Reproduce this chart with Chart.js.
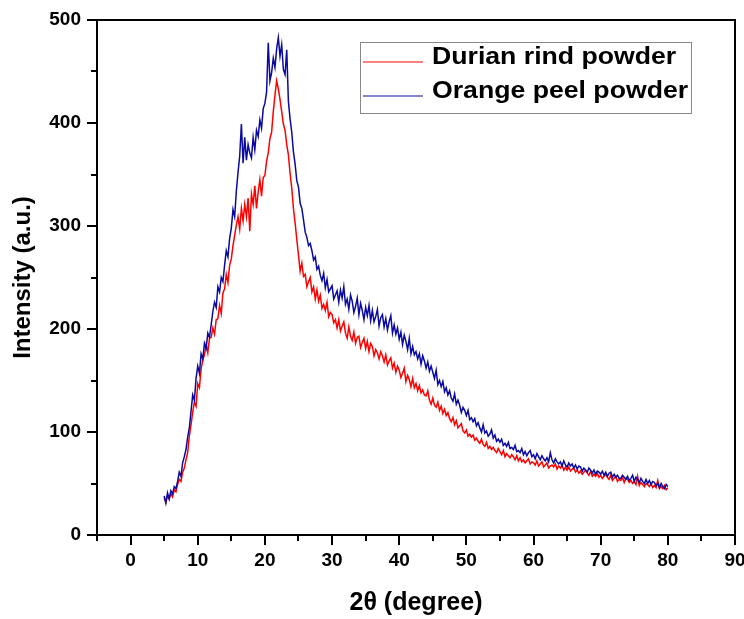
<!DOCTYPE html>
<html>
<head>
<meta charset="utf-8">
<script src="https://cdn.jsdelivr.net/npm/chart.js@4"></script>
<style>
    html, body { margin: 0; padding: 0; background: #fff; }
    #wrap { width: 744px; height: 619px; position: relative; }
</style>
</head>
<body>
<div id="wrap"><canvas id="xrdChart"></canvas></div>
<script>
// 2-theta sampling of the scans (degrees)
const startAngle = 5;
const angleStep = 0.25;

// Durian rind powder intensity, one value per 0.25 deg from 5 to 80
const durianRind = [
    36, 32, 38, 35,  40, 37, 44, 42,  49, 54, 52, 61,  65, 73, 80, 96,
    107, 119, 129, 125,  147, 143, 161, 170,  175, 185, 177, 191,  192, 201, 195, 209,
    210, 223, 215, 235,  239, 253, 245, 262,  268, 281, 291, 301,  309, 297, 317, 305,
    321, 309, 327, 295,  331, 321, 339, 317,  333, 345, 329, 347,  349, 363, 371, 385,
    391, 411, 427, 441,  433, 423, 411, 399,  393, 379, 369, 351,  337, 317, 303, 287,
    272, 256, 264, 251,  253, 241, 246, 250,  236, 241, 229, 238,  227, 233, 220, 224,
    218, 226, 212, 216,  214, 206, 209, 201,  209, 198, 203, 207,  196, 191, 202, 193,
    189, 197, 186, 192,  193, 182, 187, 191,  181, 188, 178, 186,  183, 174, 180, 177,
    171, 178, 174, 168,  175, 165, 169, 172,  162, 167, 158, 164,  160, 153, 157, 162,
    149, 155, 151, 144,  152, 143, 147, 140,  145, 138, 141, 136,  135, 140, 131, 127,
    133, 126, 124, 129,  121, 125, 118, 122,  116, 119, 113, 110,  114, 107, 111, 104,
    106, 108, 101, 99,  102, 96, 98, 95,  97, 92, 94, 91,  89, 93, 88, 86,
    90, 84, 86, 83,  85, 82, 80, 84,  81, 78, 82, 76,  79, 77, 75, 78,
    76, 73, 77, 72,  75, 71, 73, 70,  72, 74, 69, 71,  70, 68, 72, 67,
    69, 71, 66, 68,  70, 65, 67, 68,  66, 69, 64, 67,  65, 68, 63, 66,
    63, 66, 62, 64,  65, 61, 63, 60,  62, 59, 61, 63,  60, 58, 62, 57,
    59, 57, 60, 56,  58, 55, 57, 59,  56, 54, 58, 53,  55, 57, 52, 54,
    53, 56, 51, 55,  54, 51, 53, 50,  52, 49, 57, 48,  51, 49, 47, 50,
    49, 47, 50, 46,  48, 46, 53, 45,  47, 45, 48, 44,  46
];

// Orange peel powder intensity, same sampling
const orangePeel = [
    38, 31, 41, 35,  43, 40, 47, 45,  52, 61, 57, 70,  76, 83, 95, 104,
    120, 136, 131, 152,  164, 157, 176, 171,  186, 181, 196, 192,  204, 217, 226, 221,
    241, 236, 250, 246,  262, 276, 270, 288,  298, 316, 309, 334,  352, 368, 399, 361,
    386, 364, 379, 371,  366, 386, 374, 393,  387, 403, 395, 414,  419, 430, 478, 441,
    449, 463, 454, 472,  483, 465, 476, 452,  447, 471, 421, 404,  391, 372, 360, 344,
    338, 322, 317, 306,  294, 289, 281, 283,  276, 267, 270, 258,  261, 252, 247, 254,
    240, 248, 236, 239,  242, 229, 233, 237,  226, 238, 230, 241,  224, 229, 219, 233,
    227, 216, 222, 230,  214, 225, 218, 209,  221, 213, 223, 208,  218, 207, 212, 219,
    203, 211, 214, 202,  210, 199, 207, 213,  196, 204, 195, 201,  190, 197, 185, 194,
    188, 180, 191, 176,  183, 175, 178, 171,  176, 166, 174, 169,  162, 168, 159, 164,
    158, 152, 160, 146,  150, 144, 149, 139,  143, 136, 140, 133,  130, 137, 127, 131,
    126, 119, 124, 121,  116, 121, 112, 114,  110, 113, 106, 109,  104, 100, 107, 99,
    101, 96, 98, 102,  94, 97, 91, 93,  90, 93, 87, 89,  86, 90, 84, 85,
    83, 87, 81, 82,  80, 84, 78, 81,  77, 80, 82, 76,  78, 74, 79, 76,
    73, 77, 74, 72,  75, 71, 80, 73,  70, 74, 71, 69,  71, 67, 72, 68,
    66, 70, 67, 69,  65, 68, 64, 67,  66, 62, 65, 63,  61, 65, 63, 60,
    63, 59, 62, 61,  59, 62, 58, 61,  57, 60, 61, 56,  59, 56, 58, 55,
    55, 58, 56, 54,  57, 53, 55, 58,  52, 56, 54, 51,  55, 52, 50, 54,
    50, 53, 49, 52,  51, 48, 50, 46,  50, 47, 45, 49,  47
];

const seriesNames = ['Durian rind powder', 'Orange peel powder'];
const seriesColors = ['#ff0000', '#0a0aa0'];

// axis ticks
const xTickValues = [0, 10, 20, 30, 40, 50, 60, 70, 80, 90];
const xMinorTicks = [-5, 5, 15, 25, 35, 45, 55, 65, 75, 85];
const yTickValues = [0, 100, 200, 300, 400, 500];
const yMinorTicks = [50, 150, 250, 350, 450];

const toPoints = arr => arr.map((v, i) => ({ x: startAngle + i * angleStep, y: v }));

const FONT = "'Liberation Sans', Arial, sans-serif";

// frame, minor ticks and the boxed legend
const framePlugin = {
    id: 'frame',
    afterDraw(chart) {
        const { ctx, chartArea: a, scales: { x, y } } = chart;
        ctx.save();
        ctx.strokeStyle = '#000';
        ctx.lineWidth = 2;
        ctx.strokeRect(a.left, a.top, a.right - a.left, a.bottom - a.top);

        ctx.beginPath();
        xMinorTicks.forEach(v => {
            const px = Math.round(x.getPixelForValue(v));
            ctx.moveTo(px, a.bottom);
            ctx.lineTo(px, a.bottom + 6);
        });
        yMinorTicks.forEach(v => {
            const py = Math.round(y.getPixelForValue(v));
            ctx.moveTo(a.left - 6, py);
            ctx.lineTo(a.left, py);
        });
        ctx.stroke();

        // legend box
        const boxL = a.right - 375, boxT = a.top + 22, boxW = 331, boxH = 71;
        ctx.lineWidth = 1;
        ctx.strokeStyle = '#888';
        ctx.strokeRect(boxL + 0.5, boxT + 0.5, boxW, boxH);
        ctx.font = 'bold 24px ' + FONT;
        ctx.textBaseline = 'alphabetic';
        ctx.fillStyle = '#000';
        seriesNames.forEach((name, i) => {
            const rowY = boxT + 20 + i * 34;
            ctx.strokeStyle = seriesColors[i];
            ctx.lineWidth = 1.2;
            ctx.beginPath();
            ctx.moveTo(boxL + 3, rowY);
            ctx.lineTo(boxL + 63, rowY);
            ctx.stroke();
            // the reference type is set a little wide
            ctx.save();
            ctx.translate(boxL + 72, rowY + 2);
            ctx.scale(1.11, 1);
            ctx.fillText(name, 0, 0);
            ctx.restore();
        });
        ctx.restore();
    }
};

new Chart(document.getElementById('xrdChart'), {
    type: 'line',
    data: {
        datasets: [{
            label: seriesNames[0],
            data: toPoints(durianRind),
            borderColor: seriesColors[0],
            borderWidth: 1.5,
            pointRadius: 0,
            tension: 0,
            order: 1
        }, {
            label: seriesNames[1],
            data: toPoints(orangePeel),
            borderColor: seriesColors[1],
            borderWidth: 1.5,
            pointRadius: 0,
            tension: 0,
            order: 0
        }]
    },
    options: {
        responsive: true,
        maintainAspectRatio: false,
        animation: false,
        events: [],
        layout: { padding: { left: 0, top: 20, right: 9, bottom: 0 } },
        plugins: {
            legend: { display: false },
            tooltip: { enabled: false }
        },
        scales: {
            x: {
                type: 'linear',
                min: -5,
                max: 90,
                afterBuildTicks: s => { s.ticks = xTickValues.map(v => ({ value: v })); },
                afterFit: s => { s.height = 84; s.paddingRight = 0; },
                grid: {
                    drawOnChartArea: false,
                    drawTicks: true,
                    tickLength: 10,
                    color: '#000',
                    lineWidth: 2
                },
                border: { display: true, color: '#000', width: 2 },
                ticks: {
                    color: '#000',
                    font: { family: FONT, size: 19, weight: 'bold' },
                    padding: 4,
                    maxRotation: 0
                },
                title: {
                    display: true,
                    text: '2θ (degree)',
                    color: '#000',
                    font: { family: FONT, size: 25, weight: 'bold' },
                    padding: { top: 0, bottom: 1 }
                }
            },
            y: {
                type: 'linear',
                min: 0,
                max: 500,
                afterBuildTicks: s => { s.ticks = yTickValues.map(v => ({ value: v })); },
                afterFit: s => { s.width = 97; },
                grid: {
                    drawOnChartArea: false,
                    drawTicks: true,
                    tickLength: 10,
                    color: '#000',
                    lineWidth: 2
                },
                border: { display: true, color: '#000', width: 2 },
                ticks: {
                    color: '#000',
                    font: { family: FONT, size: 19, weight: 'bold' },
                    padding: 6
                },
                title: {
                    display: true,
                    text: 'Intensity (a.u.)',
                    color: '#000',
                    font: { family: FONT, size: 24, weight: 'bold' },
                    padding: { top: 9, bottom: 0 }
                }
            }
        }
    },
    plugins: [framePlugin]
});
</script>
</body>
</html>
